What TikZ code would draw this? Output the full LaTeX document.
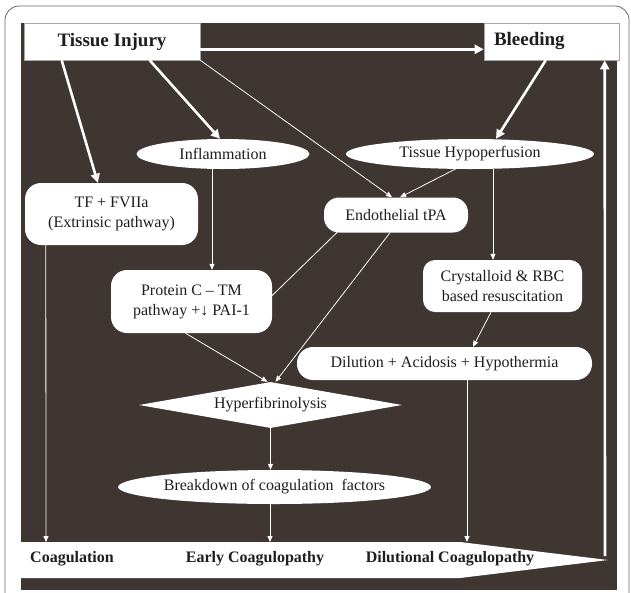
\documentclass[tikz,border=0pt]{standalone}
\usepackage{fontspec}
\setmainfont{Liberation Serif}
\usetikzlibrary{shapes.geometric,calc,arrows.meta}
\definecolor{panel}{HTML}{3F3531}
\definecolor{ink}{HTML}{1E1E1E}
\begin{document}
\begin{tikzpicture}[x=1pt,y=-1pt,
  every node/.style={inner sep=0pt, text=ink, font=\fontsize{16}{20}\selectfont},
  topbox/.style={draw=gray!70, line width=0.6pt, fill=white, rectangle, font=\fontsize{19}{22}\selectfont\bfseries, minimum height=37pt},
  oval/.style={ellipse, fill=white, minimum height=30pt},
  rbox/.style={rectangle, rounded corners=16pt, fill=white, align=center},
  bigarrow/.style={draw=white, line width=2.6pt, -{Triangle[length=9pt,width=9pt]}},
  thinarrow/.style={draw=white, line width=0.8pt, -{Triangle[length=6pt,width=5pt]}},
  thinline/.style={draw=white, line width=0.8pt},
  bannertext/.style={font=\fontsize{16}{20}\selectfont\bfseries}
]
\useasboundingbox (0,0) rectangle (631,592);
\fill[white] (0,0) rectangle (631,592);
\draw[gray!80!black, line width=0.8pt, rounded corners=14pt] (5,6) rectangle (629,610);
\fill[panel] (21,23) rectangle (617,590);
\fill[white] (21,542) -- (460,542) -- (608,560) -- (460,578) -- (21,578) -- cycle;

\node[topbox, minimum width=176pt] (ti) at (112,41.5) {Tissue Injury};
\node[topbox, text width=115pt, align=left, inner xsep=10pt] (bl) at (551.5,41.5) {Bleeding};
\node[oval, minimum width=173pt] (inf) at (223,154) {Inflammation};
\node[oval, minimum width=248pt] (hyp) at (470,154) {Tissue Hypoperfusion};
\node[rbox, minimum width=173pt, minimum height=62pt] (tf) at (111.5,214) {TF + FVIIa\\(Extrinsic pathway)};
\node[rbox, rounded corners=15pt, minimum width=144pt, minimum height=35pt] (et) at (396,215) {Endothelial tPA};
\node[rbox, rounded corners=12pt, minimum width=159pt, minimum height=52pt] (cr) at (502.5,286) {Crystalloid \& RBC\\based resuscitation};
\node[rbox, minimum width=161pt, minimum height=63pt] (pc) at (191.5,301.5) {Protein C – TM\\pathway +↓ PAI-1};
\node[rbox, minimum width=295pt, minimum height=33pt] (dil) at (444.5,363.5) {Dilution + Acidosis + Hypothermia};
\node[diamond, fill=white, aspect=5.7, minimum width=263pt, minimum height=46pt] (hf) at (270.5,405) {Hyperfibrinolysis};
\node[oval, minimum width=283pt, minimum height=34pt] (bd) at (274.5,487) {Breakdown of coagulation~ factors};

\node[bannertext, anchor=west] (c1) at (30,559) {Coagulation};
\node[bannertext] (c2) at (255,559) {Early Coagulopathy};
\node[bannertext] (c3) at (450,559) {Dilutional Coagulopathy};

\coordinate (b1) at (46,542);
\coordinate (b2) at (270,542);
\coordinate (b3) at (467,542);
\coordinate (btip) at (605,556);

% thick arrows
\draw[bigarrow] ($(ti.south east)+(0,-11)$) -- ($(bl.south west)+(0,-11)$);
\draw[bigarrow] ($(ti.south west)+(38,0)$) -- ($(tf.north west)+(73,0)$);
\draw[bigarrow] ($(ti.south west)+(126,0)$) -- ($(inf.north)+(-3,0)$);
\draw[bigarrow] ($(bl.south west)+(62,0)$) -- ($(hyp.north)+(26,0)$);
\draw[bigarrow] (btip) -- ($(bl.south west)+(121,0)$);

% thin arrows
\draw[thinarrow] (ti.south east) -- ($(et.north)+(-4,0)$);
\draw[thinarrow] ($(hyp.south)+(-13,-1)$) -- ($(et.north)+(4,0)$);
\draw[thinarrow] ($(hyp.south)+(23,0)$) -- ($(cr.north)+(-9.5,0)$);
\draw[thinarrow] ($(inf.south)+(-11,0)$) -- ($(pc.north)+(20.5,0)$);
\draw[thinline] ($(et.south west)+(14,-1)$) -- ($(pc.east)+(0,-6)$);
\draw[thinarrow] ($(et.south)+(-6,0)$) -- ($(hf.north)+(5,0)$);
\draw[thinarrow] ($(pc.south)+(-6,0)$) -- ($(hf.north)+(-3,0)$);
\draw[thinarrow] ($(cr.south)+(-11.5,0)$) -- ($(dil.north)+(28.5,0)$);
\draw[thinarrow] (hf.south) -- ($(bd.north)+(-4,0)$);
\draw[thinarrow] ($(bd.south)+(-4.5,0)$) -- (b2);
\draw[thinarrow] ($(dil.south)+(22.5,0)$) -- (b3);
\draw[thinarrow] ($(tf.south west)+(21,0)$) -- (b1);
\end{tikzpicture}
\end{document}
